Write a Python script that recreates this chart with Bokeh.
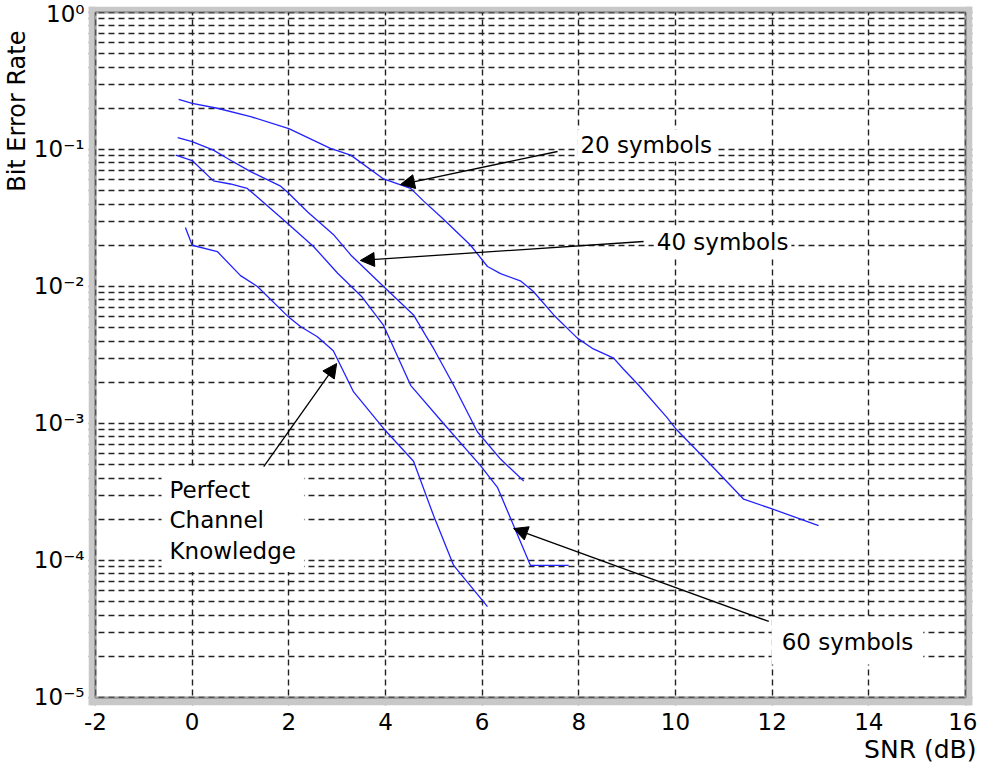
from bokeh.plotting import figure
from bokeh.models import (FixedTicker, Range1d, BoxAnnotation, Label, Arrow,
                          NormalHead, Title)
from bokeh.embed import file_html
from bokeh.resources import INLINE

# ---------------- data ----------------
snr_20 = [-0.28, 0.0, 0.52, 1.21, 2.0, 2.86, 3.28, 3.96, 4.52, 4.79, 5.2, 5.76,
          6.11, 6.38, 6.79, 7.06, 7.48, 7.97, 8.3, 8.72, 8.92, 9.24, 9.83, 10.0,
          10.66, 11.41, 11.97, 12.96]
ber_20 = [0.232, 0.217, 0.200, 0.174, 0.142, 0.102, 0.091, 0.061, 0.052, 0.042,
          0.031, 0.020, 0.014, 0.0124, 0.011, 0.0092, 0.0062, 0.0042, 0.0035,
          0.0030, 0.0025, 0.0019, 0.0011, 0.00092, 0.00053, 0.00028, 0.00024,
          0.00018]

snr_40 = [-0.30, 0.0, 0.44, 0.73, 1.21, 1.83, 1.97, 2.39, 2.92, 3.28, 3.96, 4.58,
          4.83, 5.0, 5.41, 5.90, 6.38, 6.86]
ber_40 = [0.122, 0.114, 0.099, 0.086, 0.069, 0.054, 0.049, 0.035, 0.024, 0.017,
          0.010, 0.0062, 0.0044, 0.0035, 0.0019, 0.00087, 0.00055, 0.00038]

snr_60 = [-0.34, 0.0, 0.44, 0.79, 1.14, 1.97, 2.51, 3.01, 3.5, 3.96, 4.52, 5.2,
          5.97, 6.32, 6.65, 7.0, 7.79]
ber_60 = [0.091, 0.083, 0.059, 0.056, 0.052, 0.029, 0.0196, 0.0125, 0.0085,
          0.0052, 0.0019, 0.0010, 0.00049, 0.00034, 0.00018, 0.000092, 0.000092]

snr_pck = [-0.14, 0.0, 0.52, 1.0, 1.35, 1.97, 2.24, 2.59, 2.92, 3.34, 3.96, 4.58,
           5.0, 5.41, 6.11]
ber_pck = [0.027, 0.020, 0.018, 0.012, 0.010, 0.0061, 0.0051, 0.0043, 0.0034,
           0.0017, 0.00092, 0.00053, 0.00021, 0.000092, 0.000046]

x_ticks = [-2, 0, 2, 4, 6, 8, 10, 12, 14, 16]
x_tick_labels = ["-2", "0", "2", "4", "6", "8", "10", "12", "14", "16"]
y_ticks = [1e-5, 1e-4, 1e-3, 1e-2, 1e-1, 1.0]
y_tick_labels = ["10⁻⁵", "10⁻⁴", "10⁻³", "10⁻²", "10⁻¹", "10⁰"]
y_minor = [m * 10.0 ** e for e in range(-5, 0) for m in range(2, 10)]

FONT = "DejaVu Sans"
FS = "23px"
BLUE = "#2222ff"
GRID = "#222222"
BAND = "#c8c8c8"

p = figure(frame_width=884, frame_height=699,
           x_range=Range1d(-2.145, 16.145), y_range=Range1d(8.74e-6, 1.106),
           y_axis_type="log", output_backend="svg", toolbar_location=None,
           min_border_left=80, min_border_top=6, min_border_right=5,
           min_border_bottom=0, background_fill_color="white",
           border_fill_color="white", outline_line_color=None)

# axes
p.xaxis.ticker = FixedTicker(ticks=x_ticks)
p.xaxis.major_label_overrides = {t: s for t, s in zip(x_ticks, x_tick_labels)}
p.yaxis.ticker = FixedTicker(ticks=y_ticks, minor_ticks=y_minor)
p.yaxis.major_label_overrides = {t: s for t, s in zip(y_ticks, y_tick_labels)}
for ax in (p.xaxis, p.yaxis):
    ax.axis_line_color = None
    ax.major_tick_line_color = None
    ax.minor_tick_line_color = None
    ax.major_tick_in = 0
    ax.major_tick_out = 0
    ax.minor_tick_in = 0
    ax.minor_tick_out = 0
    ax.major_label_text_font = FONT
    ax.major_label_text_font_size = FS
    ax.major_label_text_color = "black"
p.xaxis.major_label_standoff = 7
p.yaxis.major_label_standoff = 4

# grid
p.xgrid.grid_line_color = GRID
p.xgrid.grid_line_width = 1.4
p.xgrid.grid_line_dash = "6 4"
p.ygrid.grid_line_color = GRID
p.ygrid.grid_line_width = 1.4
p.ygrid.grid_line_dash = "6 4"
p.ygrid.minor_grid_line_color = GRID
p.ygrid.minor_grid_line_width = 1.4
p.ygrid.minor_grid_line_dash = "6 4"

# titles
p.add_layout(Title(text="Bit Error Rate", align="right", text_font=FONT,
                   text_font_size="24px", text_font_style="normal",
                   text_color="black", standoff=0, offset=24), "left")
p.add_layout(Title(text="SNR (dB)", align="right", text_font=FONT,
                   text_font_size="25px", text_font_style="normal",
                   text_color="black", standoff=4, vertical_align="top",
                   offset=-4), "below")

# curves
for xs, ys in ((snr_20, ber_20), (snr_40, ber_40), (snr_60, ber_60), (snr_pck, ber_pck)):
    p.line(xs, ys, line_color=BLUE, line_width=1.3)

# grey frame band + black border
for kw in (dict(right=-2), dict(left=16), dict(bottom=1.0), dict(top=1e-5)):
    p.add_layout(BoxAnnotation(fill_color=BAND, fill_alpha=1, line_color=None, **kw))
p.add_layout(BoxAnnotation(left=-2, right=16, bottom=1e-5, top=1.0,
                           fill_color=None, line_color="black", line_width=2.5))

# labels
def lab(x, y, text, baseline="middle", pad=3):
    return Label(x=x, y=y, text=text, text_align="left", text_baseline=baseline,
                 text_font=FONT, text_font_size=FS, text_color="black",
                 text_line_height=1.18, background_fill_color="white",
                 background_fill_alpha=1, padding=pad)

p.add_layout(lab(7.97, 0.107, "20 symbols"))
p.add_layout(lab(9.55, 0.0213, "40 symbols"))
p.add_layout(lab(11.99, 2.56e-5, "60 symbols", pad=10))
p.add_layout(lab(-0.634, 4.69e-4, "Perfect\nChannel\nKnowledge", baseline="top", pad=8))

# arrows
def arr(x0, y0, x1, y1):
    return Arrow(x_start=x0, y_start=y0, x_end=x1, y_end=y1,
                 line_color="black", line_width=1.3,
                 end=NormalHead(size=14, fill_color="black", line_color="black",
                                line_width=1))

p.add_layout(arr(7.56, 0.0967, 4.31, 0.0555))
p.add_layout(arr(9.34, 0.0213, 3.48, 0.0155))
p.add_layout(arr(1.48, 0.000485, 2.99, 0.00274))
p.add_layout(arr(11.93, 3.59e-5, 6.65, 1.71e-4))

open("out.html", "w").write(file_html(p, INLINE))
